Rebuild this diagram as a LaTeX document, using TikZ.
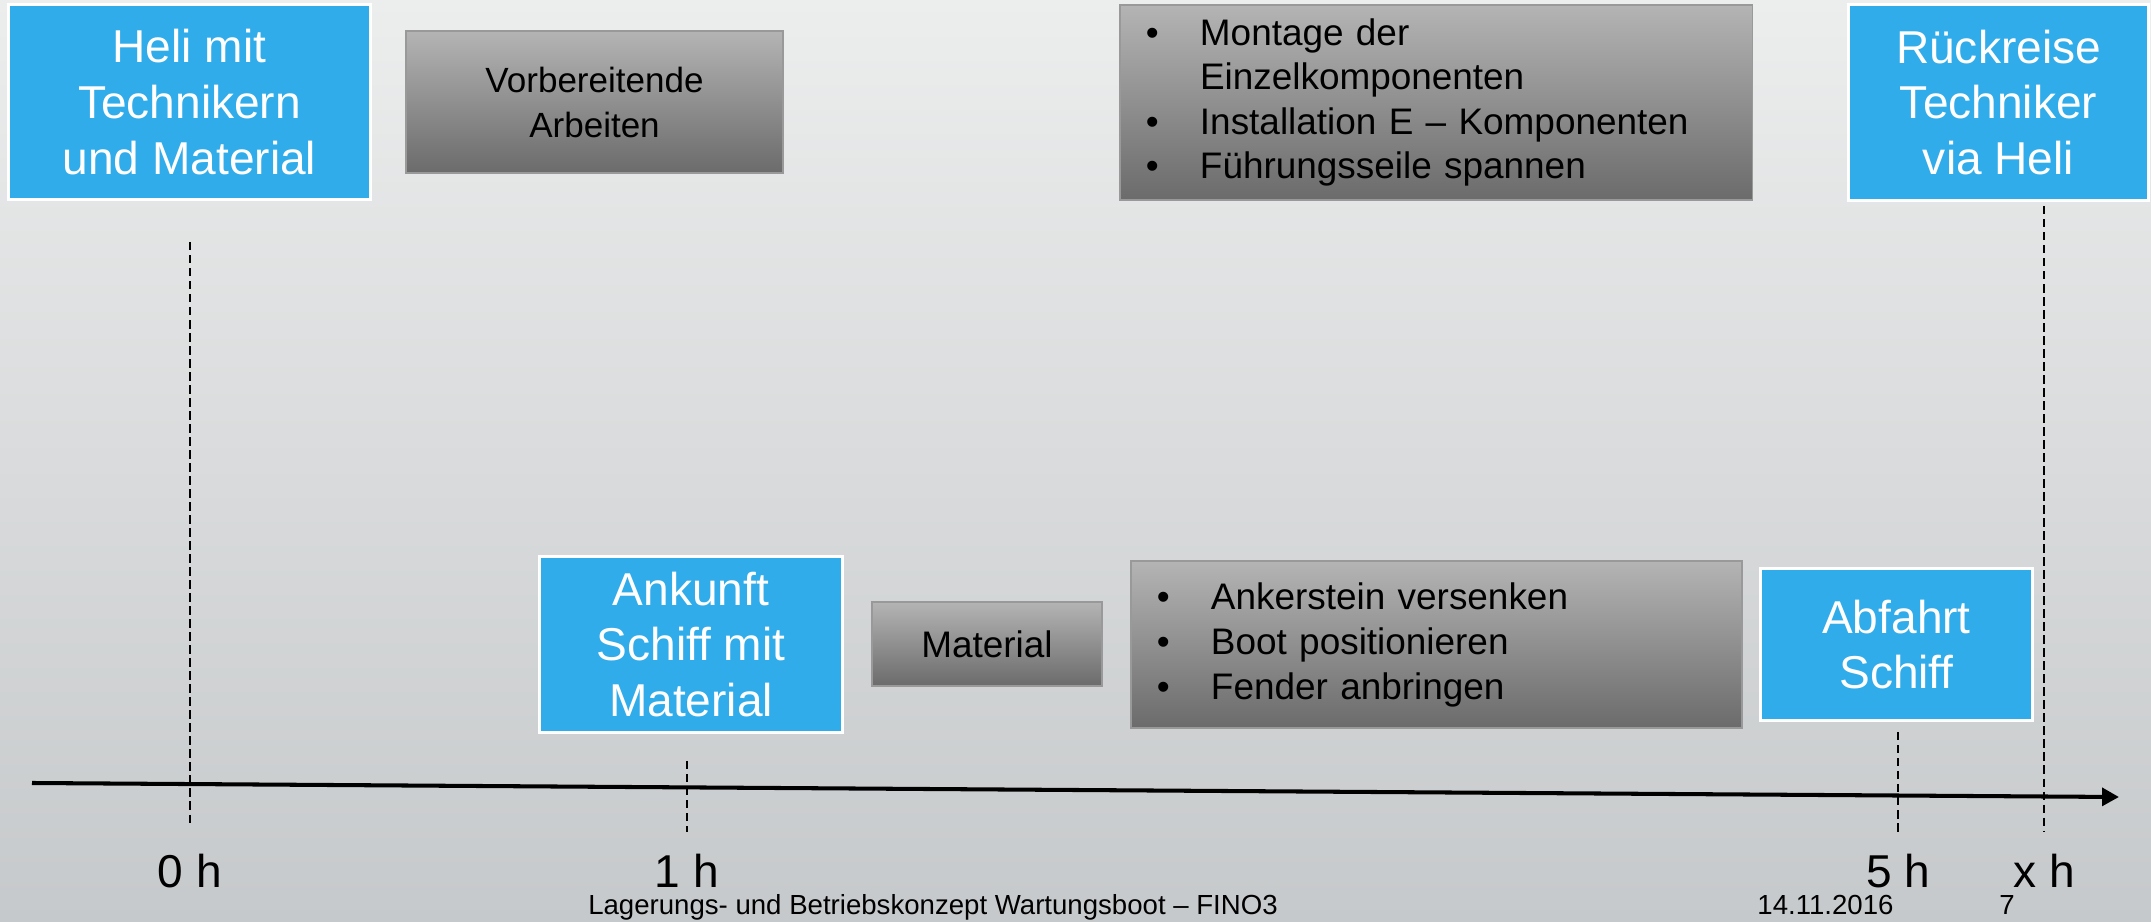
\documentclass[tikz,border=0pt]{standalone}
\usepackage{amssymb}
\usepackage{amsmath}
\usepackage{xcolor}
\usepackage{fontspec}
\setmainfont{Liberation Sans}
\usetikzlibrary{arrows.meta}

\definecolor{heliblau}{HTML}{31ACEA}
\definecolor{grauoben}{HTML}{B4B4B4}
\definecolor{grauunten}{HTML}{6B6B6B}
\definecolor{grundoben}{HTML}{ECEDED}
\definecolor{grundunten}{HTML}{C6C9CB}

\newcommand{\pkt}{\makebox[15.4pt][l]{\textbullet}}

\begin{document}
\begin{tikzpicture}[x=0.01cm, y=-0.01cm,
        blaubox/.style={rectangle, fill=heliblau, draw=white, line width=0.85pt, text=white, align=center, inner sep=0pt, font=\fontsize{13.1}{15.9}\selectfont},
        graubox/.style={rectangle, top color=grauoben, bottom color=grauunten, draw=gray!80, line width=0.4pt, text=black, inner sep=0pt, font=\fontsize{10.5}{12.6}\selectfont},
        zeit/.style={anchor=base, font=\fontsize{13.1}{15.7}\selectfont},
        fuss/.style={anchor=base, font=\fontsize{7.85}{9.4}\selectfont},
        marke/.style={dash pattern=on 2.4pt off 1.3pt, line width=0.6pt},
        achse/.style={line width=1.15pt, -{Triangle[length=4.8pt, width=5pt]}},
    ]
                    \shade [top color=grundoben, bottom color=grundunten] (0,0) rectangle (2151,922);
                    \useasboundingbox (0,0) rectangle (2151,922);

                    \node [blaubox, minimum width=3.61cm, minimum height=1.94cm](heli) at (189.5,102) {Heli mit\\Technikern\\und Material};
                    \node [graubox, minimum width=3.77cm, minimum height=1.42cm, align=center, font=\fontsize{9.96}{12.8}\selectfont](vorb) at (594.5,102) {Vorbereitende\\Arbeiten};
                    \node [graubox, minimum width=6.32cm, minimum height=1.95cm, text width=5.80cm, align=left](montage) at (1436,102.5) {\pkt Montage der\\\hspace*{15.4pt}Einzelkomponenten\\\pkt Installation E – Komponenten\\\pkt Führungsseile spannen};
                    \node [blaubox, minimum width=2.99cm, minimum height=1.95cm](rueck) at (1998.5,102.5) {Rückreise\\Techniker\\via Heli};

                    \node [blaubox, minimum width=3.02cm, minimum height=1.75cm](ankunft) at (691,644.5) {Ankunft\\Schiff mit\\Material};
                    \node [graubox, minimum width=2.30cm, minimum height=0.84cm](material) at (987,644) {Material};
                    \node [graubox, minimum width=6.11cm, minimum height=1.67cm, text width=5.59cm, align=left, font=\fontsize{10.5}{12.8}\selectfont](anker) at (1436.5,644.5) {\pkt Ankerstein versenken\\\pkt Boot positionieren\\\pkt Fender anbringen};
                    \node [blaubox, minimum width=2.71cm, minimum height=1.51cm](abfahrt) at (1896.5,644.5) {Abfahrt\\Schiff};

                    \coordinate (m0oben) at (190,242);
                    \coordinate (m0unten) at (190,826);
                    \coordinate (m1oben) at (687,761);
                    \coordinate (m1unten) at (687,832);
                    \coordinate (m5oben) at (1898,732);
                    \coordinate (m5unten) at (1898,832);
                    \coordinate (mxoben) at (2044,206);
                    \coordinate (mxunten) at (2044,832);

                    \draw [marke] (m0oben) -- (m0unten);
                    \draw [marke] (m1oben) -- (m1unten);
                    \draw [marke] (m5oben) -- (m5unten);
                    \draw [marke] (mxoben) -- (mxunten);

                    \coordinate (anfang) at (32,783);
                    \coordinate (ende) at (2119,797);
                    \draw [achse] (anfang) -- (ende);

                    \node [zeit](t0) at (190,888) {0 h};
                    \node [zeit](t1) at (687,888) {1 h};
                    \node [zeit](t5) at (1898,888) {5 h};
                    \node [zeit](tx) at (2044,888) {x h};

                    \node [fuss](titel) at (933,915) {Lagerungs- und Betriebskonzept Wartungsboot – FINO3};
                    \node [fuss, anchor=base west](datum) at (1745,915) {14.11.2016};
                    \node [fuss](seite) at (2007,915) {7};
                \end{tikzpicture}
\end{document}
